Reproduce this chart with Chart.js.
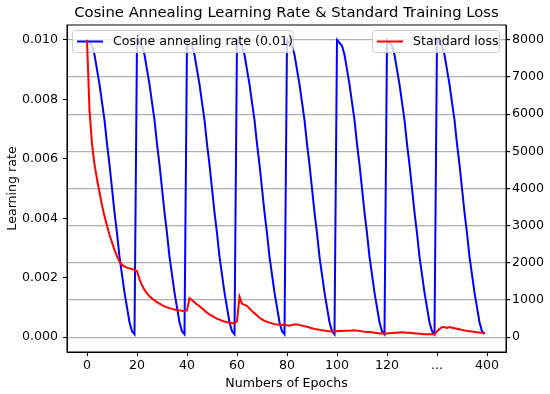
<!DOCTYPE html>
<html>
<head>
<meta charset="utf-8">
<script src="https://cdn.jsdelivr.net/npm/chart.js@4"></script>
<style>
  html, body { margin: 0; padding: 0; background: #fff; }
  #wrap { width: 550px; height: 394px; }
</style>
</head>
<body>
<div id="wrap"><canvas id="lrChart" width="550" height="394"></canvas></div>
<script>
// epochs 0..159 plotted; the last two x ticks are relabelled "..." and "400"
const epochs = Array.from({ length: 160 }, (_, i) => i);
const xTickValues = [0, 20, 40, 60, 80, 100, 120, 140, 160];
const xTickLabels = ['0', '20', '40', '60', '80', '100', '120', '...', '400'];
const lrTicks = [0, 0.002, 0.004, 0.006, 0.008, 0.010];
const lossTicks = [0, 1000, 2000, 3000, 4000, 5000, 6000, 7000, 8000];

// cosine annealing rate, read per epoch (8 restarts of 20 epochs)
const lrRate = [
  0.0100, 0.0099, 0.0098, 0.0095, 0.0090, 0.0085, 0.0079, 0.0073, 0.0065, 0.0058, 0.0050, 0.0042, 0.0035, 0.0027, 0.0021, 0.0015, 0.0010, 0.0005, 0.0002, 0.0001,
  0.0100, 0.0099, 0.0098, 0.0095, 0.0090, 0.0085, 0.0079, 0.0073, 0.0065, 0.0058, 0.0050, 0.0042, 0.0035, 0.0027, 0.0021, 0.0015, 0.0010, 0.0005, 0.0002, 0.0001,
  0.0100, 0.0099, 0.0098, 0.0095, 0.0090, 0.0085, 0.0079, 0.0073, 0.0065, 0.0058, 0.0050, 0.0042, 0.0035, 0.0027, 0.0021, 0.0015, 0.0010, 0.0005, 0.0002, 0.0001,
  0.0100, 0.0099, 0.0098, 0.0095, 0.0090, 0.0085, 0.0079, 0.0073, 0.0065, 0.0058, 0.0050, 0.0042, 0.0035, 0.0027, 0.0021, 0.0015, 0.0010, 0.0005, 0.0002, 0.0001,
  0.0100, 0.0099, 0.0098, 0.0095, 0.0090, 0.0085, 0.0079, 0.0073, 0.0065, 0.0058, 0.0050, 0.0042, 0.0035, 0.0027, 0.0021, 0.0015, 0.0010, 0.0005, 0.0002, 0.0001,
  0.0100, 0.0099, 0.0098, 0.0095, 0.0090, 0.0085, 0.0079, 0.0073, 0.0065, 0.0058, 0.0050, 0.0042, 0.0035, 0.0027, 0.0021, 0.0015, 0.0010, 0.0005, 0.0002, 0.0001,
  0.0100, 0.0099, 0.0098, 0.0095, 0.0090, 0.0085, 0.0079, 0.0073, 0.0065, 0.0058, 0.0050, 0.0042, 0.0035, 0.0027, 0.0021, 0.0015, 0.0010, 0.0005, 0.0002, 0.0001,
  0.0100, 0.0099, 0.0098, 0.0095, 0.0090, 0.0085, 0.0079, 0.0073, 0.0065, 0.0058, 0.0050, 0.0042, 0.0035, 0.0027, 0.0021, 0.0015, 0.0010, 0.0005, 0.0002, 0.0001
];

// standard training loss, per epoch
const standardLoss = [
  8000, 6100, 5200, 4650, 4250, 3900, 3550, 3250, 3000, 2750, 2550, 2350, 2180, 2030, 1950, 1900, 1870, 1850, 1830, 1810,
  1780, 1560, 1400, 1270, 1180, 1100, 1040, 990, 940, 900, 860, 830, 800, 780, 760, 745, 730, 720, 710, 705,
  720, 1050, 1000, 940, 880, 830, 780, 720, 660, 610, 570, 530, 500, 470, 440, 420, 400, 390, 380, 370,
  430, 1090, 900, 870, 840, 770, 700, 640, 580, 520, 480, 440, 410, 390, 370, 350, 340, 330, 330, 320,
  320, 310, 330, 340, 340, 330, 310, 290, 280, 260, 240, 220, 210, 195, 185, 175, 165, 160, 150, 145,
  160, 170, 165, 170, 175, 170, 180, 185, 175, 165, 155, 145, 140, 135, 130, 120, 110, 100, 95, 95,
  100, 105, 110, 115, 120, 125, 130, 125, 120, 115, 110, 100, 95, 90, 85, 80, 80, 75, 75, 80,
  150, 220, 270, 265, 250, 270, 255, 240, 225, 210, 195, 180, 170, 160, 150, 140, 130, 125, 120, 115
];

Chart.defaults.font.family = 'DejaVu Sans';
Chart.defaults.font.size = 12.6;
Chart.defaults.color = '#000';

function drawLegend(ctx, box, color, text) {
  ctx.save();
  ctx.beginPath();
  ctx.roundRect(box.x, box.y, box.w, box.h, 3);
  ctx.fillStyle = 'rgba(255,255,255,0.8)';
  ctx.fill();
  ctx.strokeStyle = '#cccccc';
  ctx.lineWidth = 1;
  ctx.stroke();
  const cy = box.y + box.h / 2;
  ctx.beginPath();
  ctx.moveTo(box.x + 4.5, cy);
  ctx.lineTo(box.x + 30.5, cy);
  ctx.strokeStyle = color;
  ctx.lineWidth = 2;
  ctx.stroke();
  ctx.fillStyle = '#000';
  ctx.font = '12.6px "DejaVu Sans"';
  ctx.textBaseline = 'middle';
  ctx.fillText(text, box.x + 40.5, cy);
  ctx.restore();
}

// title, legends and the top spine, drawn matplotlib-like
const decor = {
  id: 'decor',
  afterDatasetDraw(chart, args) {
    // left legend sits between the two line layers
    if (args.index === 1) {
      drawLegend(chart.ctx, { x: 72.5, y: 30.5, w: 220.5, h: 22 }, 'blue', 'Cosine annealing rate (0.01)');
    }
  },
  afterDatasetsDraw(chart) {
    const ctx = chart.ctx;
    const a = chart.chartArea;
    drawLegend(ctx, { x: 372.5, y: 30.5, w: 127, h: 22 }, 'red', 'Standard loss');
    ctx.save();
    ctx.strokeStyle = '#000';
    ctx.lineWidth = 1;
    ctx.strokeRect(a.left, a.top, a.right - a.left, a.bottom - a.top);
    ctx.fillStyle = '#000';
    ctx.font = '14.8px "DejaVu Sans"';
    ctx.textAlign = 'center';
    ctx.textBaseline = 'middle';
    ctx.fillText('Cosine Annealing Learning Rate & Standard Training Loss', (a.left + a.right) / 2, 13);
    ctx.restore();
  }
};

new Chart(document.getElementById('lrChart'), {
  type: 'line',
  data: {
    labels: epochs,
    datasets: [
      {
        label: 'Standard loss',
        data: standardLoss,
        yAxisID: 'y1',
        borderColor: 'red',
        borderWidth: 2,
        pointRadius: 0,
        order: 0
      },
      {
        label: 'Cosine annealing rate (0.01)',
        data: lrRate,
        yAxisID: 'y',
        borderColor: 'blue',
        borderWidth: 2,
        pointRadius: 0,
        order: 1
      }
    ]
  },
  options: {
    responsive: false,
    animation: false,
    devicePixelRatio: 1,
    layout: { padding: { top: 25, left: 0, right: 0, bottom: 0 } },
    plugins: {
      legend: { display: false },
      title: { display: false },
      tooltip: { enabled: false }
    },
    scales: {
      x: {
        type: 'linear',
        min: -8,
        max: 167.6,
        afterBuildTicks: s => { s.ticks = xTickValues.map(v => ({ value: v })); },
        afterFit: s => { s.height = 42; },
        ticks: {
          autoSkip: false,
          maxRotation: 0,
          padding: 2,
          callback: (v, i) => xTickLabels[i]
        },
        grid: { drawOnChartArea: false, tickLength: 4, tickColor: '#000' },
        border: { display: true, color: '#000', width: 1 },
        title: { display: true, text: 'Numbers of Epochs', padding: { top: 1, bottom: 3 } }
      },
      y: {
        position: 'left',
        min: -0.0005,
        max: 0.0105,
        afterBuildTicks: s => { s.ticks = lrTicks.map(v => ({ value: v })); },
        afterFit: s => { s.width = 67; },
        ticks: { padding: 5, callback: v => v.toFixed(3) },
        grid: { drawOnChartArea: false, tickLength: 4, tickColor: '#000' },
        border: { display: true, color: '#000', width: 1 },
        title: { display: true, text: 'Learning rate', padding: { top: 5, bottom: 6 } }
      },
      y1: {
        position: 'right',
        min: -400,
        max: 8400,
        afterBuildTicks: s => { s.ticks = lossTicks.map(v => ({ value: v })); },
        afterFit: s => { s.width = 44; },
        ticks: { padding: 2, callback: v => String(v) },
        grid: { drawOnChartArea: true, color: '#b0b0b0', lineWidth: 1.2, tickLength: 4, tickColor: '#000' },
        border: { display: true, color: '#000', width: 1 }
      }
    }
  },
  plugins: [decor]
});
</script>
</body>
</html>
